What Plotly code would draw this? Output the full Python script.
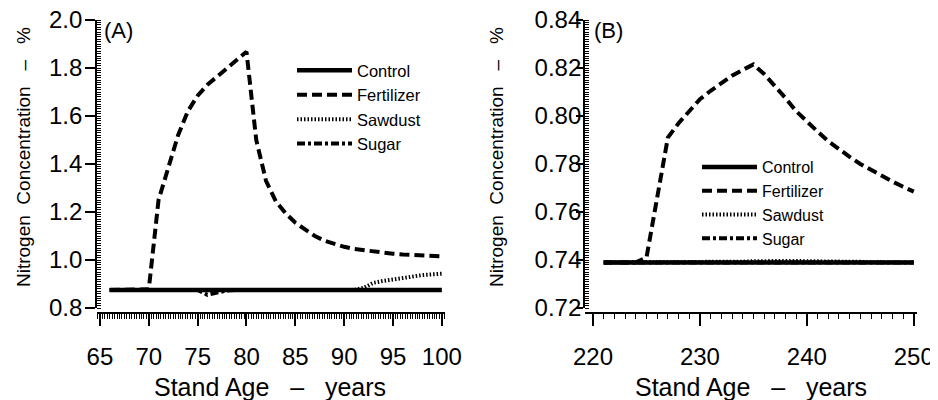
import plotly.graph_objects as go

# ---------------- data ----------------
age_a = [66, 67, 68, 69, 70, 71, 72, 73, 74, 75, 76, 77, 78, 79, 80, 81, 82, 83,
         84, 85, 86, 87, 88, 89, 90, 91, 92, 93, 94, 95, 96, 97, 98, 99, 100]
control_a = [0.875, 0.875, 0.875, 0.875, 0.875, 0.875, 0.875, 0.875, 0.875, 0.875,
             0.875, 0.875, 0.875, 0.875, 0.875, 0.875, 0.875, 0.875, 0.875, 0.875,
             0.875, 0.875, 0.875, 0.875, 0.875, 0.875, 0.875, 0.875, 0.875, 0.875,
             0.875, 0.875, 0.875, 0.875, 0.875]
fert_a = [0.875, 0.875, 0.875, 0.875, 0.878, 1.25, 1.39, 1.52, 1.62, 1.685,
          1.73, 1.765, 1.795, 1.83, 1.868, 1.50, 1.33, 1.245, 1.195, 1.155,
          1.125, 1.10, 1.08, 1.066, 1.055, 1.046, 1.04, 1.034, 1.03, 1.026,
          1.023, 1.021, 1.019, 1.017, 1.015]
sawdust_a = [0.875, 0.875, 0.875, 0.875, 0.875, 0.875, 0.875, 0.875, 0.875, 0.875,
             0.875, 0.875, 0.875, 0.875, 0.875, 0.875, 0.875, 0.875, 0.875, 0.875,
             0.875, 0.875, 0.875, 0.875, 0.875, 0.875, 0.884, 0.905, 0.913, 0.920,
             0.927, 0.933, 0.937, 0.940, 0.943]
sugar_a = [0.875, 0.875, 0.875, 0.875, 0.875, 0.875, 0.875, 0.875, 0.875, 0.875,
           0.855, 0.866, 0.873, 0.875, 0.875, 0.875, 0.875, 0.875, 0.875, 0.875,
           0.875, 0.875, 0.875, 0.875, 0.875, 0.875, 0.875, 0.875, 0.875, 0.875,
           0.875, 0.875, 0.875, 0.875, 0.875]

age_b = [221, 222, 223, 224, 225, 226, 227, 228, 229, 230, 231, 232, 233, 234, 235,
         236, 237, 238, 239, 240, 241, 242, 243, 244, 245, 246, 247, 248, 249, 250]
control_b = [0.739, 0.739, 0.739, 0.739, 0.739, 0.739, 0.739, 0.739, 0.739, 0.739,
             0.739, 0.739, 0.739, 0.739, 0.739, 0.739, 0.739, 0.739, 0.739, 0.739,
             0.739, 0.739, 0.739, 0.739, 0.739, 0.739, 0.739, 0.739, 0.739, 0.739]
fert_b = [0.739, 0.739, 0.739, 0.739, 0.741, 0.766, 0.791, 0.797, 0.802, 0.807,
          0.8105, 0.8138, 0.8168, 0.8192, 0.8215, 0.8175, 0.8128, 0.8075, 0.802, 0.7975,
          0.7935, 0.7895, 0.786, 0.783, 0.780, 0.7775, 0.775, 0.7727, 0.7705, 0.7685]
sawdust_b = [0.739, 0.739, 0.739, 0.739, 0.739, 0.739, 0.739, 0.739, 0.739, 0.739,
             0.739, 0.739, 0.739, 0.7393, 0.7395, 0.7396, 0.7397, 0.7397, 0.7396, 0.7395,
             0.7394, 0.7393, 0.7392, 0.7391, 0.739, 0.739, 0.739, 0.739, 0.739, 0.739]
sugar_b = [0.739, 0.739, 0.739, 0.739, 0.739, 0.739, 0.739, 0.739, 0.739, 0.739,
           0.739, 0.739, 0.739, 0.739, 0.739, 0.739, 0.739, 0.739, 0.739, 0.739,
           0.739, 0.739, 0.739, 0.739, 0.739, 0.739, 0.739, 0.739, 0.739, 0.739]

series_names = ["Control", "Fertilizer", "Sawdust", "Sugar"]
x_ticks_a = [65, 70, 75, 80, 85, 90, 95, 100]
x_ticks_b = [220, 230, 240, 250]
y_ticks_a = [0.8, 1.0, 1.2, 1.4, 1.6, 1.8, 2.0]
y_ticks_b = [0.72, 0.74, 0.76, 0.78, 0.80, 0.82, 0.84]

# ---------------- styling ----------------
FONT = "Liberation Sans, Arial, Helvetica, sans-serif"
styles = {
    "Control": dict(width=4.5, dash="solid"),
    "Fertilizer": dict(width=4, dash="10px,5px"),
    "Sawdust": dict(width=4, dash="1.5px,2px"),
    "Sugar": dict(width=4, dash="8px,3px,3px,3px"),
}
rank = {"Control": 1, "Fertilizer": 2, "Sawdust": 3, "Sugar": 4}

fig = go.Figure()

panel_data = [
    ("x", "y", "legend", age_a, {"Control": control_a, "Fertilizer": fert_a,
                                  "Sawdust": sawdust_a, "Sugar": sugar_a}),
    ("x2", "y2", "legend2", age_b, {"Control": control_b, "Fertilizer": fert_b,
                                     "Sawdust": sawdust_b, "Sugar": sugar_b}),
]
draw_order = ["Sawdust", "Sugar", "Fertilizer", "Control"]
for xa, ya, leg, ages, d in panel_data:
    for name in draw_order:
        fig.add_trace(go.Scatter(
            x=ages, y=d[name], mode="lines", name=name,
            xaxis=xa, yaxis=ya, legend=leg, legendgroup=leg + name,
            legendrank=rank[name],
            line=dict(color="black", width=styles[name]["width"],
                      dash=styles[name]["dash"]),
            hoverinfo="skip",
        ))

# The page body has an 8px margin; positions below are given in screen pixels
OFF = 8
W, H = 930, 392
def px_x(p):
    return (p - OFF) / W
def px_y(p):
    return 1 - (p - OFF) / H

ydom = [px_y(308), px_y(20)]
xpos = px_y(313)

common_x = dict(
    showline=True, linecolor="black", linewidth=1.8, showgrid=False, zeroline=False,
    ticks="outside", ticklen=12, tickwidth=1.6, tickcolor="black",
    tickfont=dict(family=FONT, size=24, color="black"),
    ticklabelstandoff=10, anchor="free", position=xpos, automargin=False,
    ticklabeloverflow="allow",
)
common_y = dict(
    showline=True, linecolor="black", linewidth=1.8, showgrid=False, zeroline=False,
    ticks="outside", tickwidth=1.6, tickcolor="black",
    tickfont=dict(family=FONT, size=24, color="black"),
    domain=ydom, automargin=False, ticklabeloverflow="allow",
)

leg_common = dict(xanchor="left", yanchor="top",
                  bgcolor="rgba(0,0,0,0)", tracegroupgap=0, itemclick=False,
                  itemwidth=55)

fig.update_layout(
    width=W, height=H,
    margin=dict(l=0, r=0, t=0, b=0, autoexpand=False),
    paper_bgcolor="white", plot_bgcolor="white",
    showlegend=True,
    xaxis=dict(common_x, domain=[px_x(97), px_x(444.8)], range=[64.7, 100.3],
               tickvals=x_ticks_a,
               minor=dict(dtick=0.25, ticks="outside", ticklen=5, tickwidth=1,
                          tickcolor="black")),
    yaxis=dict(common_y, anchor="x", range=[0.8, 2.0], tickvals=y_ticks_a,
               tickformat=".1f", ticklen=10, ticklabelstandoff=-2,
               minor=dict(dtick=0.01, ticks="inside", ticklen=4, tickwidth=1,
                          tickcolor="black")),
    xaxis2=dict(common_x, domain=[px_x(585), px_x(917)], range=[219.25, 250.3],
                tickvals=x_ticks_b,
                minor=dict(dtick=1, ticks="outside", ticklen=5, tickwidth=1,
                           tickcolor="black")),
    yaxis2=dict(common_y, anchor="x2", range=[0.72, 0.84], tickvals=y_ticks_b,
                tickformat=".2f", ticklen=7, ticklabelstandoff=-10,
                minor=dict(dtick=0.001, ticks="inside", ticklen=4, tickwidth=1,
                           tickcolor="black")),
    legend=dict(leg_common, x=px_x(292), y=px_y(53),
                font=dict(family=FONT, size=16.5, color="black")),
    legend2=dict(leg_common, x=px_x(697), y=px_y(150),
                 font=dict(family=FONT, size=16, color="black")),
)

ann_font_title = dict(family=FONT, size=25, color="black")
ann_font_ytitle = dict(family=FONT, size=19, color="black")
sp = "\u00a0"
annotations = [
    dict(text="(A)", x=px_x(102), y=px_y(30), xanchor="left", yanchor="middle",
         font=dict(family=FONT, size=22, color="black")),
    dict(text="(B)", x=px_x(592), y=px_y(30), xanchor="left", yanchor="middle",
         font=dict(family=FONT, size=22, color="black")),
    dict(text=f"Stand Age{sp}{sp}{sp}–{sp}{sp}{sp}years", x=px_x(270), y=px_y(387),
         xanchor="center", yanchor="middle", font=ann_font_title),
    dict(text=f"Stand Age{sp}{sp}{sp}–{sp}{sp}{sp}years", x=px_x(751), y=px_y(387),
         xanchor="center", yanchor="middle", font=ann_font_title),
    dict(text=f"Nitrogen{sp}{sp}Concentration{sp}{sp}{sp}–{sp}{sp}{sp}%", x=px_x(24),
         y=px_y(157), xanchor="center", yanchor="middle", textangle=-90,
         font=ann_font_ytitle),
    dict(text=f"Nitrogen{sp}{sp}Concentration{sp}{sp}{sp}–{sp}{sp}{sp}%", x=px_x(497),
         y=px_y(157), xanchor="center", yanchor="middle", textangle=-90,
         font=ann_font_ytitle),
]
for a in annotations:
    a.update(xref="paper", yref="paper", showarrow=False)
fig.update_layout(annotations=annotations)

fig.write_html("out.html")
